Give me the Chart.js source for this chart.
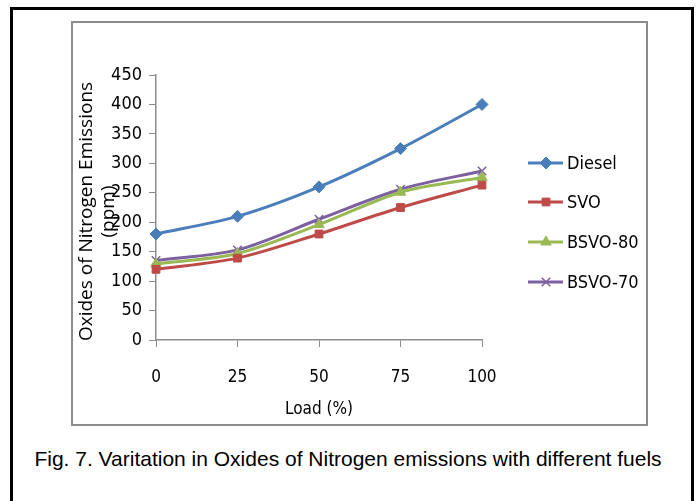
<!DOCTYPE html>
<html>
<head>
<meta charset="utf-8">
<script src="https://cdn.jsdelivr.net/npm/chart.js@4/dist/chart.umd.min.js"></script>
<style>
body { margin: 0; background: #fff; }
#outer { position: absolute; left: 10px; top: 7px; width: 684px; height: 520px; border: 3px solid #000; border-bottom: none; box-sizing: border-box; }
#frame { position: absolute; left: 71px; top: 21px; width: 577px; height: 405px; border: 2px solid #8c8c8c; box-sizing: border-box; }
#caption { position: absolute; left: 0; width: 696px; top: 447px; text-align: center; font-family: "Liberation Sans", sans-serif; font-size: 21px; color: #000; }
#wrap { position: absolute; left: 0; top: 0; width: 696px; height: 501px; }
</style>
</head>
<body>
<div id="outer"></div>
<div id="frame"></div>
<div id="caption">Fig. 7. Varitation in Oxides of Nitrogen emissions with different fuels</div>
<div id="wrap"><canvas id="noxChart"></canvas></div>
<script>
var loads = ['0', '25', '50', '75', '100'];
var diesel = [180, 210, 260, 325, 400];
var svo = [120, 139, 180, 225, 263];
var bsvo80 = [129, 147, 196, 251, 276];
var bsvo70 = [135, 153, 205, 256, 287];
var y_ticks = [0, 50, 100, 150, 200, 250, 300, 350, 400, 450];

var narrow = '"DejaVu Sans Condensed", sans-serif';

function make_series(label, data, color, style, radius)
{
    return {
        label: label,
        data: data,
        borderColor: color,
        backgroundColor: color,
        borderWidth: 3,
        pointStyle: style,
        pointRadius: radius,
        pointBorderWidth: style == 'crossRot' ? 1.5 : 1,
        pointBorderColor: color,
        tension: 0.3,
        fill: false
    };
}

// titles and legend drawn on the canvas next to the axes
var extras = {
    id: 'extras',
    afterDraw: function(chart) {
        var ctx = chart.ctx;
        var area = chart.chartArea;
        ctx.save();
        ctx.fillStyle = '#000';
        ctx.textAlign = 'center';
        ctx.textBaseline = 'middle';
        // y title, two lines
        ctx.save();
        ctx.translate(area.left - 69, (area.top + area.bottom) / 2 + 4);
        ctx.rotate(-Math.PI / 2);
        ctx.font = '19px "Open Sans", sans-serif';
        ctx.fillText('Oxides of Nitrogen Emissions', 0, 0);
        ctx.fillText('(ppm)', 0, 22);
        ctx.restore();
        // x title
        ctx.font = '17px ' + narrow;
        ctx.fillText('Load (%)', (area.left + area.right) / 2, 410);
        // legend
        var ys = [163, 202, 242, 282];
        ctx.textAlign = 'left';
        ctx.font = '18px ' + narrow;
        chart.data.datasets.forEach(function(ds, i) {
            ctx.strokeStyle = ds.borderColor;
            ctx.lineWidth = 3;
            ctx.beginPath();
            ctx.moveTo(528, ys[i]);
            ctx.lineTo(563, ys[i]);
            ctx.stroke();
            ctx.fillStyle = ds.backgroundColor;
            ctx.lineWidth = ds.pointBorderWidth;
            Chart.helpers.drawPoint(ctx, {pointStyle: ds.pointStyle, radius: ds.pointRadius, borderWidth: ds.pointBorderWidth}, 546, ys[i]);
            ctx.fillStyle = '#000';
            ctx.fillText(ds.label, 567, ys[i] + 1);
        });
        ctx.restore();
    }
};

new Chart(document.getElementById('noxChart'), {
    type: 'line',
    data: {
        labels: loads,
        datasets: [
            make_series('Diesel', diesel, '#4a7ebb', 'rectRot', 6),
            make_series('SVO', svo, '#be4b48', 'rect', 5.5),
            make_series('BSVO-80', bsvo80, '#98b954', 'triangle', 6),
            make_series('BSVO-70', bsvo70, '#7d60a0', 'crossRot', 6)
        ]
    },
    options: {
        responsive: true,
        maintainAspectRatio: false,
        animation: false,
        layout: { padding: { left: 0, top: 75, right: 214, bottom: 0 } },
        plugins: {
            legend: { display: false },
            tooltip: { enabled: false }
        },
        scales: {
            x: {
                offset: false,
                afterFit: function(scale) { scale.height = 161; },
                grid: { display: true, drawOnChartArea: false, offset: false, color: '#8c8c8c', tickLength: 7 },
                border: { color: '#8c8c8c', width: 1.5 },
                ticks: { color: '#000', font: { family: narrow, size: 17 }, padding: 20, maxRotation: 0 }
            },
            y: {
                min: 0,
                max: 450,
                afterFit: function(scale) { scale.width = 156; },
                afterBuildTicks: function(scale) { scale.ticks = y_ticks.map(function(v) { return {value: v}; }); },
                grid: { display: true, drawOnChartArea: false, color: '#8c8c8c', tickLength: 7 },
                border: { color: '#8c8c8c', width: 1.5 },
                ticks: { color: '#000', font: { family: narrow, size: 18 }, padding: 7 }
            }
        }
    },
    plugins: [extras]
});
</script>
</body>
</html>
